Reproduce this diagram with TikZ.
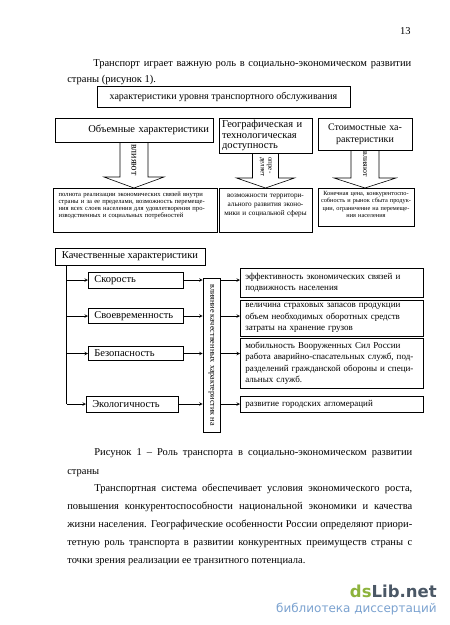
\documentclass[tikz,border=0pt]{standalone}
\usepackage{fontspec}
\setmainfont{Liberation Serif}
\newfontfamily\wmfont{DejaVu Sans}
\usetikzlibrary{calc}
\definecolor{wmgreen}{HTML}{8DB33C}
\definecolor{wmgray}{HTML}{4B5866}
\definecolor{wmblue}{HTML}{7BA2D0}

\begin{document}
\begin{tikzpicture}
          [x=1pt,y=-1pt,line width=0.6pt,
          box/.style={draw=black,inner sep=2pt},
          arc/.style={->,>=stealth},
          blk/.style={draw=black},
          body/.style={font=\fontsize{10.5}{18}\selectfont,anchor=base west,inner sep=0pt}]

          \fill[white] (0,0) rectangle (450,625);
          \useasboundingbox (0,0) rectangle (450,625);

          % page text above the figure
          \node[body,anchor=base east] (pg) at (411,34) {13};
          \node[body] (p1) at (93,66) {\makebox[318pt][s]{Транспорт играет важную роль в социально-экономическом развитии}};
          \node[body] (p2) at (67,82) {страны (рисунок 1).};

          % upper part
          \node[box,minimum width=253,minimum height=21,font=\fontsize{10}{12}\selectfont] (lvl) at (223.5,96.5) {характеристики уровня транспортного обслуживания};

          \node[box,minimum height=24,text width=150,inner xsep=4pt,align=right,font=\fontsize{10.5}{12}\selectfont] (vol) at (134,130) {Объемные характеристики};
          \node[box,minimum height=35,text width=87,inner xsep=3pt,align=left,font=\fontsize{10.5}{10.5}\selectfont] (geo) at (265.5,135.5) {\makebox[85pt][s]{Географическая и}\\технологическая\\доступность};
          \node[box,minimum height=32,text width=88,inner xsep=3pt,align=center,font=\fontsize{10}{12}\selectfont] (cost) at (365,134) {Стоимостные ха-\\рактеристики};

          \node[box,anchor=north,text width=153,inner xsep=5.5pt,text height=6pt,text depth=34pt,align=left,font=\fontsize{6.6}{7.2}\selectfont] (vres) at (135,188)
            {\makebox[153pt][s]{полнота реализации экономических связей внутри}\\
             \makebox[153pt][s]{страны и за ее пределами, возможность перемеще-}\\
             \makebox[153pt][s]{ния всех слоев населения для удовлетворения про-}\\
             изводственных и социальных потребностей};
          \node[box,anchor=north,text width=87,inner xsep=3pt,text height=7.5pt,text depth=32.5pt,align=center,font=\fontsize{7.2}{9}\selectfont] (vgeo) at (265.5,188)
            {возможности территори-\\ального развития эконо-\\мики и социальной сферы};
          \node[box,anchor=north,text width=90,inner xsep=3pt,text height=5pt,text depth=29pt,align=center,font=\fontsize{6.3}{7.4}\selectfont] (vcost) at (366,188)
            {Конечная цена, конкурентоспо-\\собность и рынок сбыта продук-\\ции, ограничение на перемеще-\\ния населения};

          \draw [blk] ($(vol.south)+(-14,0)$) -- ($(vol.south |- vres.north)+(-14,-11)$) -- ++(-16,0) -- (vol.south |- vres.north) -- ++(30,-11) -- ++(-16,0) -- ($(vol.south)+(14,0)$);
          \draw [blk] ($(geo.south)+(-13,0)$) -- ($(geo.south |- vgeo.north)+(-13,-10)$) -- ++(-16,0) -- (geo.south |- vgeo.north) -- ++(29,-10) -- ++(-16,0) -- ($(geo.south)+(13,0)$);
          \draw [blk] ($(cost.south)+(-14,0)$) -- ($(cost.south |- vcost.north)+(-14,-10)$) -- ++(-17,0) -- (cost.south |- vcost.north) -- ++(31,-10) -- ++(-17,0) -- ($(cost.south)+(14,0)$);
          \node[rotate=-90,inner sep=0pt,font=\fontsize{10}{10}\selectfont] at (134,160) {влияют};
          \node[rotate=-90,inner sep=0pt,align=left,font=\fontsize{7}{7.5}\selectfont] at (265.5,167) {опре-\\деляет};
          \node[rotate=-90,inner sep=0pt,font=\fontsize{8}{8}\selectfont] at (365,164) {влияют};

          % lower part
          \node[box,minimum width=150,minimum height=17,font=\fontsize{10.5}{12}\selectfont] (qual) at (130,256.5) {Качественные характеристики};
          \coordinate (t) at ($(qual.south west)+(12,0)$);

          \node[box,anchor=west,text width=83,inner xsep=6pt,minimum height=16,align=left,font=\fontsize{10.5}{12}\selectfont] (speed) at (88,280) {Скорость};
          \node[box,anchor=west,text width=83,inner xsep=6pt,minimum height=15,align=left,font=\fontsize{10.5}{12}\selectfont] (time) at (88,316) {Своевременность};
          \node[box,anchor=west,text width=83,inner xsep=6pt,minimum height=14,align=left,font=\fontsize{10.5}{12}\selectfont] (safe) at (88,353.5) {Безопасность};
          \node[box,anchor=west,text width=80,inner xsep=6pt,minimum height=16,align=left,font=\fontsize{10.5}{12}\selectfont] (eco) at (86,404) {Экологичность};

          \node[box,rotate=-90,minimum width=154,minimum height=17,font=\fontsize{8.2}{8.5}\selectfont] (infl) at (211.5,355) {влияние качественных характеристик на};

          \node[box,anchor=north west,text width=173,inner xsep=5pt,inner ysep=1pt,minimum height=29,align=left,font=\fontsize{9}{11.5}\selectfont] (r1) at (240,268)
            {\makebox[173pt][s]{эффективность экономических связей и}\\подвижность населения};
          \node[box,anchor=north west,text width=173,inner xsep=5pt,inner ysep=1pt,minimum height=36,align=left,font=\fontsize{9}{11.5}\selectfont] (r2) at (240,300)
            {величина страховых запасов продукции\\объем необходимых оборотных средств\\затраты на хранение грузов};
          \node[box,anchor=north west,text width=173,inner xsep=5pt,inner ysep=1pt,minimum height=50,align=left,font=\fontsize{9}{11.5}\selectfont] (r3) at (240,338)
            {мобильность Вооруженных Сил России\\
             \makebox[173pt][s]{работа аварийно-спасательных служб, под-}\\
             \makebox[173pt][s]{разделений гражданской обороны и специ-}\\
             альных служб.};
          \node[box,anchor=north west,text width=173,inner xsep=5pt,inner ysep=1pt,minimum height=16,align=left,font=\fontsize{9}{11.5}\selectfont] (r4) at (240,396)
            {развитие городских агломераций};

          \draw (t) -- (t |- eco);
          \draw [arc] (t |- speed) -- (speed);
          \draw [arc] (t |- time) -- (time);
          \draw [arc] (t |- safe) -- (safe);
          \draw [arc] (t |- eco) -- (eco);

          \draw [arc] (speed) -- (speed -| infl.south);
          \draw [arc] (time) -- (time -| infl.south);
          \draw [arc] (safe) -- (safe -| infl.south);
          \draw [arc] (eco) -- (eco -| infl.south);

          \draw [arc] (speed -| infl.north) -- (speed -| r1.west);
          \draw [arc] (time -| infl.north) -- (time -| r2.west);
          \draw [arc] (safe -| infl.north) -- (safe -| r3.west);
          \draw [arc] (eco -| infl.north) -- (eco -| r4.west);

          % caption and text below
          \node[body] (c1) at (94,455) {\makebox[318pt][s]{Рисунок 1 -- Роль транспорта в социально-экономическом развитии}};
          \node[body] (c2) at (67,474) {страны};
          \node[body] (b1) at (94,491) {\makebox[318pt][s]{Транспортная система обеспечивает условия экономического роста,}};
          \node[body] (b2) at (67,509) {\makebox[345pt][s]{повышения конкурентоспособности национальной экономики и качества}};
          \node[body] (b3) at (67,527) {\makebox[345pt][s]{жизни населения. Географические особенности России определяют приори-}};
          \node[body] (b4) at (67,545) {\makebox[345pt][s]{тетную роль транспорта в развитии конкурентных преимуществ страны с}};
          \node[body] (b5) at (67,563) {точки зрения реализации ее транзитного потенциала.};

          \node[anchor=base east,inner sep=0pt,font=\wmfont\bfseries\fontsize{16.5}{16.5}\selectfont] (wm) at (437,597) {\textcolor{wmgreen}{ds}\textcolor{wmgray}{Lib.net}};
          \node[anchor=base east,inner sep=0pt,text=wmblue,font=\wmfont\fontsize{12}{12}\selectfont] (wm2) at (437,612) {библиотека диссертаций};

        \end{tikzpicture}
\end{document}
